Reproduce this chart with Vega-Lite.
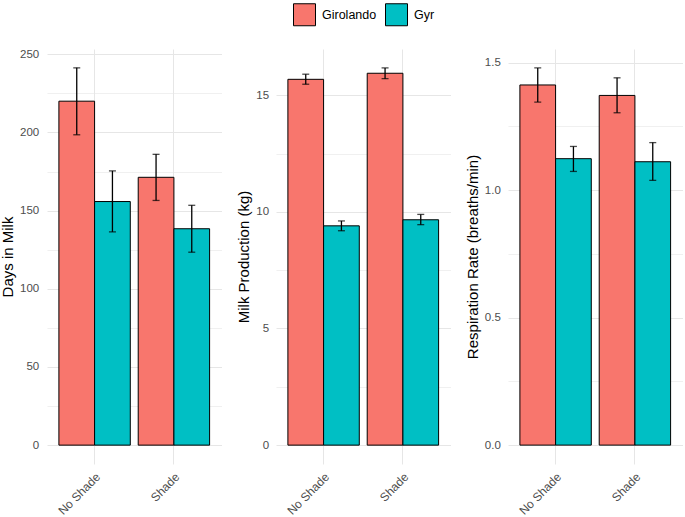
{
  "$schema": "https://vega.github.io/schema/vega-lite/v6.json",
  "background": "white",
  "padding": {"left": 0, "top": 3, "right": 2, "bottom": 0},
  "datasets": {
    "dim": [
      {"condition": "No Shade", "breed": "Girolando", "mean": 220.0, "lo": 198.5, "hi": 241.3},
      {"condition": "No Shade", "breed": "Gyr", "mean": 155.8, "lo": 136.4, "hi": 175.4},
      {"condition": "Shade", "breed": "Girolando", "mean": 171.3, "lo": 156.5, "hi": 186.0},
      {"condition": "Shade", "breed": "Gyr", "mean": 138.4, "lo": 123.4, "hi": 153.4}
    ],
    "milk": [
      {"condition": "No Shade", "breed": "Girolando", "mean": 15.68, "lo": 15.47, "hi": 15.90},
      {"condition": "No Shade", "breed": "Gyr", "mean": 9.40, "lo": 9.19, "hi": 9.61},
      {"condition": "Shade", "breed": "Girolando", "mean": 15.94, "lo": 15.71, "hi": 16.17},
      {"condition": "Shade", "breed": "Gyr", "mean": 9.66, "lo": 9.45, "hi": 9.89}
    ],
    "rr": [
      {"condition": "No Shade", "breed": "Girolando", "mean": 1.412, "lo": 1.345, "hi": 1.479},
      {"condition": "No Shade", "breed": "Gyr", "mean": 1.123, "lo": 1.073, "hi": 1.171},
      {"condition": "Shade", "breed": "Girolando", "mean": 1.371, "lo": 1.303, "hi": 1.440},
      {"condition": "Shade", "breed": "Gyr", "mean": 1.111, "lo": 1.038, "hi": 1.186}
    ]
  },
  "hconcat": [
    {
      "data": {"name": "dim"},
      "width": 174.5,
      "height": 415,
      "encoding": {
        "x": {"field": "condition", "type": "nominal", "sort": ["No Shade", "Shade"],
              "scale": {"paddingInner": 0.1, "paddingOuter": 0.15},
              "axis": {"title": null, "grid": true, "bandPosition": 0.5}},
        "xOffset": {"field": "breed", "type": "nominal", "sort": ["Girolando", "Gyr"],
                    "scale": {"paddingInner": 0, "paddingOuter": 0}}
      },
      "layer": [
        {
          "mark": {"type": "bar", "stroke": "black", "strokeWidth": 1},
          "encoding": {
            "y": {"field": "mean", "type": "quantitative",
                  "scale": {"domain": [-12.07, 253.37], "nice": false, "zero": false},
                  "axis": {"title": "Days in Milk", "values": [0,25,50,75,100,125,150,175,200,225,250],
                           "labelExpr": "indexof([0,50,100,150,200,250], datum.value) >= 0 ? datum.label : ''",
                           "gridWidth": {"condition": {"test": "indexof([0,50,100,150,200,250], datum.value) >= 0", "value": 1}, "value": 0.6},
                           "labelPadding": 8.3, "titlePadding": 4}},
            "y2": {"datum": 0},
            "color": {"field": "breed", "type": "nominal",
                      "scale": {"domain": ["Girolando", "Gyr"], "range": ["#F8766D", "#00BFC4"]}}
          }
        },
        {
          "mark": {"type": "rule", "color": "black", "strokeWidth": 1.3},
          "encoding": {"y": {"field": "lo", "type": "quantitative"}, "y2": {"field": "hi"}}
        },
        {
          "mark": {"type": "tick", "orient": "horizontal", "color": "black", "thickness": 1.3, "size": 7},
          "encoding": {"y": {"field": "lo", "type": "quantitative"}}
        },
        {
          "mark": {"type": "tick", "orient": "horizontal", "color": "black", "thickness": 1.3, "size": 7},
          "encoding": {"y": {"field": "hi", "type": "quantitative"}}
        }
      ]
    },
    {
      "data": {"name": "milk"},
      "width": 174.5,
      "height": 415,
      "encoding": {
        "x": {"field": "condition", "type": "nominal", "sort": ["No Shade", "Shade"],
              "scale": {"paddingInner": 0.1, "paddingOuter": 0.15},
              "axis": {"title": null, "grid": true, "bandPosition": 0.5}},
        "xOffset": {"field": "breed", "type": "nominal", "sort": ["Girolando", "Gyr"],
                    "scale": {"paddingInner": 0, "paddingOuter": 0}}
      },
      "layer": [
        {
          "mark": {"type": "bar", "stroke": "black", "strokeWidth": 1},
          "encoding": {
            "y": {"field": "mean", "type": "quantitative",
                  "scale": {"domain": [-0.809, 16.98], "nice": false, "zero": false},
                  "axis": {"title": "Milk Production (kg)", "values": [0,2.5,5,7.5,10,12.5,15],
                           "labelExpr": "indexof([0,5,10,15], datum.value) >= 0 ? datum.label : ''",
                           "gridWidth": {"condition": {"test": "indexof([0,5,10,15], datum.value) >= 0", "value": 1}, "value": 0.6},
                           "labelPadding": 7.4, "titlePadding": 4.5}},
            "y2": {"datum": 0},
            "color": {"field": "breed", "type": "nominal",
                      "scale": {"domain": ["Girolando", "Gyr"], "range": ["#F8766D", "#00BFC4"]}}
          }
        },
        {
          "mark": {"type": "rule", "color": "black", "strokeWidth": 1.3},
          "encoding": {"y": {"field": "lo", "type": "quantitative"}, "y2": {"field": "hi"}}
        },
        {
          "mark": {"type": "tick", "orient": "horizontal", "color": "black", "thickness": 1.3, "size": 7},
          "encoding": {"y": {"field": "lo", "type": "quantitative"}}
        },
        {
          "mark": {"type": "tick", "orient": "horizontal", "color": "black", "thickness": 1.3, "size": 7},
          "encoding": {"y": {"field": "hi", "type": "quantitative"}}
        }
      ]
    },
    {
      "data": {"name": "rr"},
      "width": 174.5,
      "height": 415,
      "encoding": {
        "x": {"field": "condition", "type": "nominal", "sort": ["No Shade", "Shade"],
              "scale": {"paddingInner": 0.1, "paddingOuter": 0.15},
              "axis": {"title": null, "grid": true, "bandPosition": 0.5}},
        "xOffset": {"field": "breed", "type": "nominal", "sort": ["Girolando", "Gyr"],
                    "scale": {"paddingInner": 0, "paddingOuter": 0}}
      },
      "layer": [
        {
          "mark": {"type": "bar", "stroke": "black", "strokeWidth": 1},
          "encoding": {
            "y": {"field": "mean", "type": "quantitative",
                  "scale": {"domain": [-0.074, 1.553], "nice": false, "zero": false},
                  "axis": {"title": "Respiration Rate (breaths/min)", "values": [0,0.25,0.5,0.75,1,1.25,1.5],
                           "format": ".1f",
                           "labelExpr": "indexof([0,0.5,1,1.5], datum.value) >= 0 ? datum.label : ''",
                           "gridWidth": {"condition": {"test": "indexof([0,0.5,1,1.5], datum.value) >= 0", "value": 1}, "value": 0.6},
                           "labelPadding": 7.7, "titlePadding": 4}},
            "y2": {"datum": 0},
            "color": {"field": "breed", "type": "nominal",
                      "scale": {"domain": ["Girolando", "Gyr"], "range": ["#F8766D", "#00BFC4"]}}
          }
        },
        {
          "mark": {"type": "rule", "color": "black", "strokeWidth": 1.3},
          "encoding": {"y": {"field": "lo", "type": "quantitative"}, "y2": {"field": "hi"}}
        },
        {
          "mark": {"type": "tick", "orient": "horizontal", "color": "black", "thickness": 1.3, "size": 7},
          "encoding": {"y": {"field": "lo", "type": "quantitative"}}
        },
        {
          "mark": {"type": "tick", "orient": "horizontal", "color": "black", "thickness": 1.3, "size": 7},
          "encoding": {"y": {"field": "hi", "type": "quantitative"}}
        }
      ]
    }
  ],
  "spacing": 14,
  "config": {
    "font": "Liberation Sans",
    "view": {"stroke": null},
    "axis": {
      "domain": false,
      "ticks": false,
      "tickSize": 0,
      "gridColor": "#E6E6E6",
      "labelFont": "Liberation Sans",
      "labelFontSize": 11.5,
      "labelColor": "#4D4D4D",
      "titleFont": "Liberation Sans",
      "titleFontSize": 15,
      "titleFontWeight": "normal",
      "titleColor": "#000000"
    },
    "axisX": {
      "labelAngle": 315,
      "labelAlign": "right",
      "labelBaseline": "top",
      "labelPadding": 7,
      "labelFontSize": 12
    },
    "legend": {
      "title": null,
      "orient": "none",
      "legendX": 246,
      "legendY": -46,
      "direction": "horizontal",
      "padding": 0,
      "symbolType": "square",
      "symbolSize": 484,
      "symbolStrokeColor": "black",
      "symbolStrokeWidth": 1,
      "symbolOpacity": 1,
      "labelFont": "Liberation Sans",
      "labelFontSize": 12.5,
      "labelColor": "#000000",
      "labelOffset": 6,
      "columnPadding": 6
    }
  }
}
